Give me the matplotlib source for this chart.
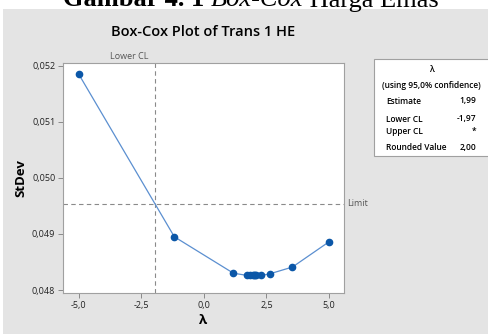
import matplotlib.pyplot as plt
from matplotlib.patches import Rectangle
from matplotlib.text import Annotation
from matplotlib.ticker import FuncFormatter

# Box-Cox search points (lambda vs StDev)
lambdas = [-5.0, -1.18, 1.18, 1.74, 1.85, 1.95, 1.99, 2.03, 2.08, 2.30, 2.64, 3.54, 5.0]
stdevs = [0.05185, 0.04895, 0.04830, 0.04826, 0.04826, 0.04826, 0.04826,
          0.04826, 0.04826, 0.04826, 0.04829, 0.04841, 0.04886]

lower_cl = -1.97
limit = 0.04954

xticks = [-5.0, -2.5, 0.0, 2.5, 5.0]
yticks = [0.048, 0.049, 0.050, 0.051, 0.052]

box_rows = [("Estimate", "1,99"), ("Lower CL", "-1,97"), ("Upper CL", "*"),
            ("Rounded Value", "2,00")]

plt.rcParams['font.family'] = ['Open Sans', 'DejaVu Sans']

W, H = 489, 334
fig = plt.figure(figsize=(W / 100, H / 100), dpi=100)
fig.patch.set_facecolor("white")

# grey Minitab panel
fig.patches.append(Rectangle((3 / W, 0), 1, 1 - 9 / H, transform=fig.transFigure,
                             facecolor="#e4e4e4", edgecolor="none", zorder=0))

# caption of the page, cut off at the top like in the scan
serif = "Liberation Serif"
t1 = fig.text(63 / W, 1 - 6.5 / H, "Gambar 4. 1 ", family=serif, fontsize=19,
              fontweight="bold", va="baseline")
t2 = fig.add_artist(Annotation("Box-Cox", xy=(1, 0), xycoords=t1, va="bottom",
                               family=serif, fontsize=19, style="italic"))
fig.add_artist(Annotation(" Harga Emas", xy=(1, 0), xycoords=t2, va="bottom",
                          family=serif, fontsize=19))

ax = fig.add_axes([63 / W, 1 - 293 / H, 281 / W, 230 / H])
ax.set_zorder(2)
ax.set_facecolor("white")
ax.plot(lambdas, stdevs, color="#5b8fd0", lw=0.9, marker="o", ms=4.5,
        mfc="#0b57a8", mec="#0b57a8", zorder=3)

ax.axvline(lower_cl, color="#8a8a8a", lw=0.8, ls=(0, (4, 3)))
ax.axhline(limit, color="#8a8a8a", lw=0.8, ls=(0, (4, 3)))

ax.set_xlim(-5.63, 5.6)
ax.set_ylim(0.047947, 0.05205)
ax.set_xticks(xticks)
ax.set_yticks(yticks)
ax.xaxis.set_major_formatter(FuncFormatter(lambda v, p: f"{v:.1f}".replace(".", ",")))
ax.yaxis.set_major_formatter(FuncFormatter(lambda v, p: f"{v:.3f}".replace(".", ",")))
ax.tick_params(direction="out", length=3.5, width=0.7, color="#8a8a8a",
               labelsize=6.5, labelcolor="#222222", pad=2)
for s in ax.spines.values():
    s.set_color("#a0a0a0")
    s.set_linewidth(0.8)

ax.set_xlabel("λ", fontsize=9.5, fontweight="bold", labelpad=3)
ax.set_ylabel("StDev", fontsize=9.5, fontweight="bold", labelpad=3)

ax.text(lower_cl - 0.25, 1.01, "Lower CL", transform=ax.get_xaxis_transform(),
        ha="right", va="bottom", fontsize=6.5, color="#555555")
ax.text(1.01, limit, "Limit", transform=ax.get_yaxis_transform(),
        ha="left", va="center", fontsize=6.5, color="#555555")

fig.text(203 / W, 1 - 32 / H, "Box-Cox Plot of Trans 1 HE", ha="center",
         va="center", fontsize=10.5, fontweight="semibold")

# info box on the right
bx0, by0, bx1, by1 = 374, 59, 489, 156
fig.patches.append(Rectangle((bx0 / W, 1 - by1 / H), (bx1 - bx0) / W, (by1 - by0) / H,
                             transform=fig.transFigure, facecolor="white",
                             edgecolor="#a0a0a0", lw=0.8, zorder=1))
fig.text((bx0 + bx1) / 2 / W, 1 - 70 / H, "λ", ha="center", va="center",
         fontsize=6, fontweight="semibold")
fig.text(431 / W, 1 - 86 / H, "(using 95,0% confidence)", ha="center",
         va="center", fontsize=6, fontweight="semibold")
for (lab, val), y in zip(box_rows, [101, 119, 131, 148]):
    fig.text(386 / W, 1 - y / H, lab, ha="left", va="center", fontsize=6,
             fontweight="semibold")
    fig.text(476 / W, 1 - y / H, val, ha="right", va="center", fontsize=6,
             fontweight="semibold")

fig.savefig("out.png", dpi=100)
